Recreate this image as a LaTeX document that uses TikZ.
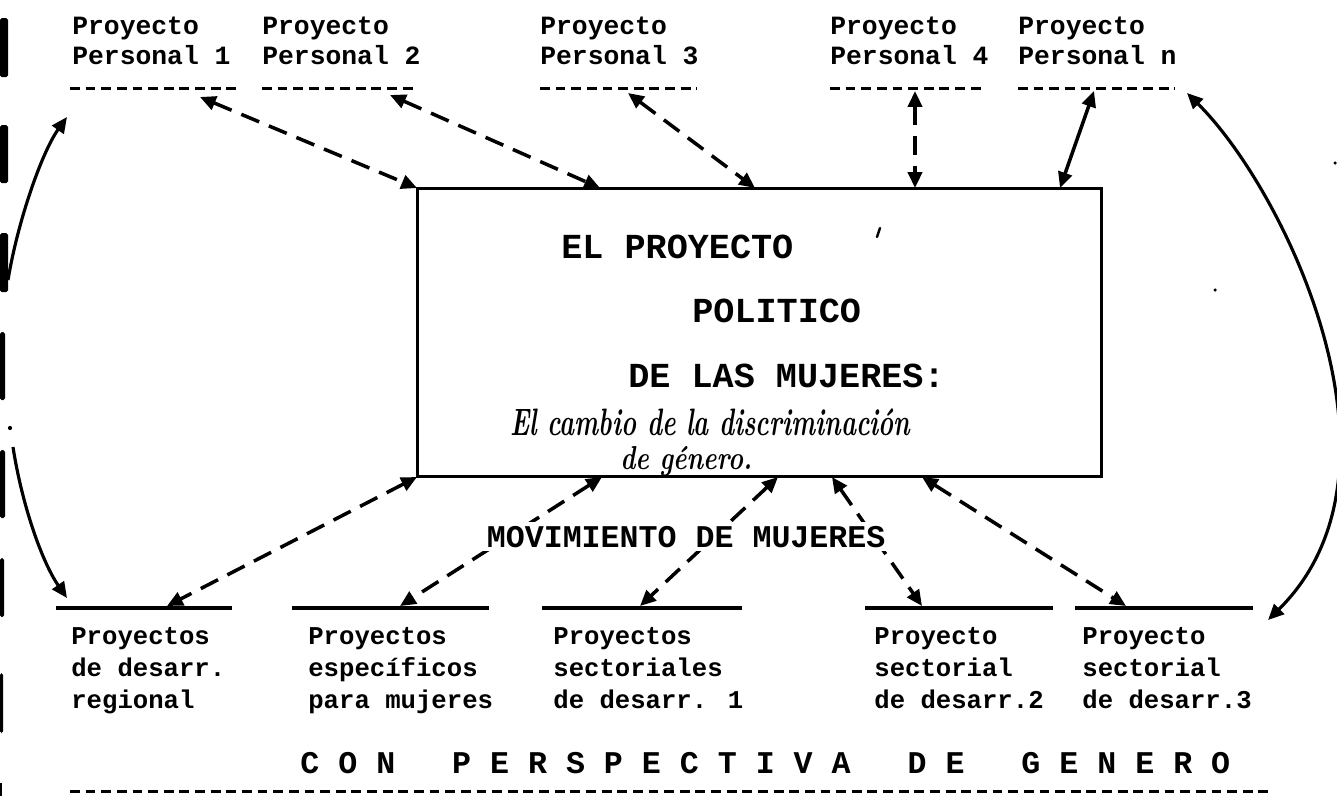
\documentclass[tikz,border=0pt]{standalone}
\usepackage{fontspec}
\usepackage{graphicx}
\newfontfamily\typewriter{Liberation Mono}
\usetikzlibrary{arrows.meta}

\begin{document}
\begin{tikzpicture}[x=0.02cm, y=-0.02cm,
  >={Triangle[length=9pt, width=8pt]},
  proj/.style={anchor=north west, inner sep=0pt, align=left,
    font=\typewriter\bfseries\fontsize{15}{17}\selectfont},
  sect/.style={anchor=north west, inner sep=0pt, align=left,
    font=\typewriter\bfseries\fontsize{14.6}{18.1}\selectfont},
  title/.style={anchor=base west, inner sep=0pt,
    font=\typewriter\bfseries\fontsize{20}{24}\selectfont},
  banner/.style={anchor=base west, inner sep=2pt, fill=white,
    font=\typewriter\bfseries\fontsize{18}{22}\selectfont},
  hand/.style={anchor=base west, inner sep=0pt,
    font=\bfseries\itshape\fontsize{14.5}{17}\selectfont},
  typedline/.style={line width=1.7pt, dash pattern=on 5.6pt off 3.3pt},
  rule/.style={line width=2.3pt},
  link/.style={<->, line width=2pt, dash pattern=on 11pt off 6pt},
  tie/.style={line width=1.8pt}]
\useasboundingbox (0,0) rectangle (1337,796);

% binding marks on the left edge
\fill[rounded corners=1pt] (0,18) rectangle (8,77);
\fill[rounded corners=1pt] (0,125) rectangle (8,183);
\fill[rounded corners=1pt] (0,233) rectangle (8,292);
\fill[rounded corners=1pt] (0,332) rectangle (5,400);
\fill[rounded corners=1pt] (0,450) rectangle (5,518);
\fill[rounded corners=1pt] (0,558) rectangle (4,617);
\fill[rounded corners=1pt] (0,673) rectangle (3,733);
\fill (0,783) rectangle (2,796);
\fill (10,428) circle (1.2pt);
\fill (1335,163) circle (1pt);
\fill (1215,290) circle (1pt);

% personal projects
\node[proj] (pp1) at (72,17) {Proyecto\\Personal 1};
\node[proj] (pp2) at (262,17) {Proyecto\\Personal 2};
\node[proj] (pp3) at (540,17) {Proyecto\\Personal 3};
\node[proj] (pp4) at (830,17) {Proyecto\\Personal 4};
\node[proj] (ppn) at (1018,17) {Proyecto\\Personal n};
\draw[typedline] (70,88) -- (242,88);
\draw[typedline] (262,88) -- (415,88);
\draw[typedline] (540,88) -- (697,88);
\draw[typedline] (830,88) -- (985,88);
\draw[typedline] (1018,88) -- (1175,88);

% central box
\node[draw, line width=1.7pt, minimum width=13.7cm, minimum height=5.78cm,
  inner sep=0pt, outer sep=0pt] (box) at (759.5,332.5) {};
\node[title] (t1) at (561,258) {EL PROYECTO};
\node[title] (t2) at (692,322) {POLITICO};
\node[title] (t3) at (628,387) {DE LAS MUJERES:};
\node[hand] (h1) at (510,435) {\scalebox{1}[1.5]{El cambio de la discriminación}};
\node[hand] (h2) at (620,469) {\scalebox{1}[1.3]{de género.}};
\draw[line width=1.4pt, line cap=round] (880,228) -- (877,237);

% sector projects
\node[sect] (sp1) at (71,627) {Proyectos\\de desarr.\\regional};
\node[sect] (sp2) at (308,627) {Proyectos\\específicos\\para mujeres};
\node[sect] (sp3) at (553,627) {Proyectos\\sectoriales\\de desarr. 1};
\node[sect] (sp4) at (874,627) {Proyecto\\sectorial\\de desarr.2};
\node[sect] (sp5) at (1082,627) {Proyecto\\sectorial\\de desarr.3};
\draw[rule] (56,608) -- (232,608);
\draw[rule] (292,608) -- (489,608);
\draw[rule] (542,608) -- (742,608);
\draw[rule] (865,608) -- (1053,608);
\draw[rule] (1075,608) -- (1253,608);

% end points of the connectors
\coordinate (u1) at (200,97);
\coordinate (u2) at (390,95);
\coordinate (u3) at (628,93);
\coordinate (u4) at (915,91);
\coordinate (u5) at (1094,91);
\coordinate (k2) at (600,188);
\coordinate (k3) at (755,188);
\coordinate (k4) at (915,188);
\coordinate (k5) at (1060,188);
\coordinate (m2) at (602,477);
\coordinate (m3) at (778,477);
\coordinate (m4) at (832,477);
\coordinate (m5) at (922,477);
\coordinate (d1) at (167,606);
\coordinate (d2) at (400,606);
\coordinate (d3) at (640,606);
\coordinate (d4) at (922,606);
\coordinate (d5) at (1126,606);
\coordinate (l1) at (8,280);
\coordinate (l1t) at (67,117);
\coordinate (l2) at (13,447);
\coordinate (l2t) at (67,598);
\coordinate (r1) at (1187,93);
\coordinate (r2) at (1268,620);

% connectors
\draw[link] (u1) -- (box.north west);
\draw[link] (u2) -- (k2);
\draw[link] (u3) -- (k3);
\draw[link] (u4) -- (k4);
\draw[<->, tie, line width=2pt] (u5) -- (k5);
\draw[link] (box.south west) -- (d1);
\draw[link] (m2) -- (d2);
\draw[link] (m3) -- (d3);
\draw[link] (m4) -- (d4);
\draw[link] (m5) -- (d5);
\draw[->, tie] (l1) .. controls (18,220) and (42,152) .. (l1t);
\draw[->, tie] (l2) .. controls (22,505) and (42,562) .. (l2t);
\draw[<->, tie] (r1) .. controls (1285,190) and (1420,470) .. (r2);

\node[banner] (mov) at (483,547) {MOVIMIENTO DE MUJERES};
\node[banner, fill=none, inner sep=0pt] (con) at (300,773)
  {C\ O\ N\ \ \ P\ E\ R\ S\ P\ E\ C\ T\ I\ V\ A\ \ \ D\ E\ \ \ G\ E\ N\ E\ R\ O};
\draw[typedline] (70,791) -- (1270,791);
\end{tikzpicture}
\end{document}
